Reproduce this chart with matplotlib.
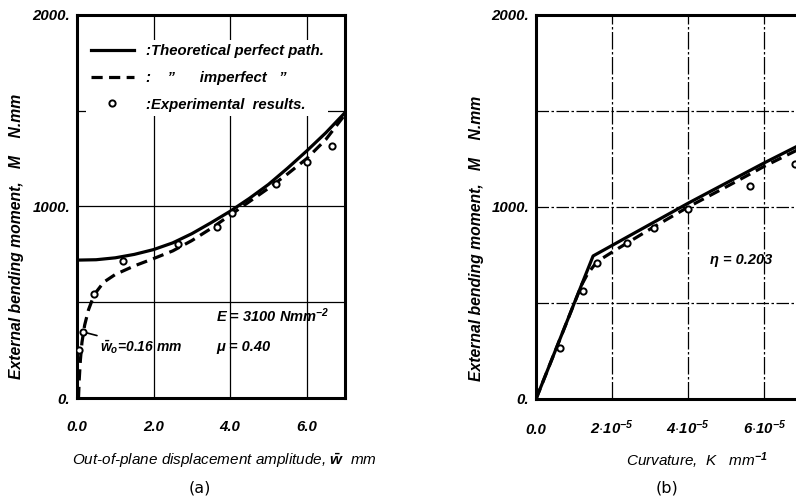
import matplotlib
matplotlib.use('Agg')
import matplotlib.pyplot as plt
from matplotlib.lines import Line2D

plt.rcParams['font.family'] = ['Liberation Sans', 'DejaVu Sans']
plt.rcParams['font.weight'] = 'bold'
plt.rcParams['font.style'] = 'italic'
plt.rcParams['mathtext.fontset'] = 'custom'
plt.rcParams['mathtext.rm'] = 'Liberation Sans:bold:italic'
plt.rcParams['mathtext.it'] = 'Liberation Sans:bold:italic'
plt.rcParams['mathtext.bf'] = 'Liberation Sans:bold:italic'

# (a) moment vs out-of-plane displacement
perfect_w = [0, 0.5, 1.0, 1.5, 2.0, 2.5, 3.0, 3.5, 4.0, 4.5, 5.0, 5.5, 6.0, 6.5, 7.0]
perfect_M = [720, 722, 732, 750, 775, 810, 858, 915, 975, 1042, 1115, 1200, 1290, 1385, 1490]
imperf_w = [0.04, 0.06, 0.09, 0.13, 0.2, 0.3, 0.45, 0.7, 1.0, 1.5, 2.0, 2.5, 3.0, 3.5, 4.0,
            4.5, 5.0, 5.5, 6.0, 6.5, 7.0]
imperf_M = [0, 100, 200, 290, 380, 460, 540, 605, 645, 690, 728, 768, 822, 885, 955,
            1025, 1095, 1170, 1250, 1350, 1480]
exp_w = [0.05, 0.16, 0.45, 1.2, 2.65, 3.65, 4.05, 5.2, 6.0, 6.65]
exp_M = [250, 345, 545, 715, 805, 895, 965, 1120, 1230, 1315]

# (b) moment vs curvature (units of 1e-5 mm^-1)
perf_k = [0, 1.5, 2.0, 3.0, 4.0, 5.0, 6.0, 7.0]
perf_kM = [0, 745, 800, 910, 1020, 1125, 1230, 1330]
imp_k = [0, 1.2, 1.35, 1.6, 2.0, 3.0, 4.0, 5.0, 6.0, 7.0]
imp_kM = [0, 595, 650, 715, 765, 885, 1000, 1105, 1212, 1310]
exp_k = [0.63, 1.23, 1.6, 2.4, 3.09, 4.0, 5.63, 6.8]
exp_kM = [265, 560, 708, 812, 890, 990, 1109, 1224]

grid_w = [2, 4, 6]
grid_k = [2, 4, 6]
grid_M = [500, 1000, 1500]

fig = plt.figure(figsize=(7.96, 4.98), dpi=100)
axa = fig.add_axes([0.0967, 0.2008, 0.3367, 0.7691])
axb = fig.add_axes([0.6734, 0.1988, 0.3442, 0.7711])

line_kw = dict(color='black', lw=2.3)
dash_kw = dict(color='black', lw=2.3, dashes=(3.5, 2))
pt_kw = dict(ls='none', marker='o', ms=4.5, mfc='white', mec='black', mew=1.4)

# ---- panel (a)
for g in grid_w:
    axa.axvline(g, color='black', lw=0.9, zorder=1)
for g in grid_M:
    axa.axhline(g, color='black', lw=0.9, zorder=1)
axa.plot(perfect_w, perfect_M, zorder=3, **line_kw)
axa.plot(imperf_w, imperf_M, zorder=3, **dash_kw)
axa.plot(exp_w, exp_M, zorder=4, **pt_kw)
axa.set_xlim(0, 7.0)
axa.set_ylim(0, 2000)
axa.set_xticks([0, 2, 4, 6])
axa.set_xticklabels(['0.0', '2.0', '4.0', '6.0'])
axa.set_yticks([0, 1000, 2000])
axa.set_yticklabels(['0.', '1000.', '2000.'])

handles = [Line2D([], [], **line_kw), Line2D([], [], **dash_kw), Line2D([], [], **pt_kw)]
labels = [':Theoretical perfect path.', ':    \u201d      imperfect   \u201d', ':Experimental  results.']
leg = axa.legend(handles, labels, loc='upper left', bbox_to_anchor=(0.035, 0.935),
                 fontsize=10.7, handlelength=2.9, handletextpad=0.8, labelspacing=0.85,
                 frameon=True, facecolor='white', edgecolor='none', framealpha=1,
                 borderpad=0.3, borderaxespad=0)

axa.text(0.52, 0.215, 'E = 3100 Nmm$^{-2}$', transform=axa.transAxes, fontsize=10.5,
         va='center', ha='left')
axa.text(0.52, 0.133, '\u03bc = 0.40', transform=axa.transAxes, fontsize=10.5,
         va='center', ha='left')
axa.annotate(r'$\bar{w}_o$=0.16 mm', xy=(exp_w[1], exp_M[1]), xytext=(0.085, 0.133),
             textcoords='axes fraction', fontsize=10, va='center', ha='left',
             arrowprops=dict(arrowstyle='-', color='black', lw=1.2, shrinkA=0, shrinkB=3))

axa.set_xlabel('Out-of-plane displacement amplitude, $\\bar{w}$  mm', fontsize=11)
axa.xaxis.set_label_coords(0.55, -0.14)
fig.text(200 / 796, 1 - 488 / 498, '(a)', ha='center', va='center', fontsize=11.5,
         style='normal', weight='normal', family='DejaVu Sans')
fig.text(17 / 796, 1 - 236 / 498, 'External bending moment,   M    N.mm', rotation=90,
         ha='center', va='center', fontsize=11.3)

# ---- panel (b)
for g in grid_k:
    axb.axvline(g, color='black', lw=0.9, dashes=(14, 2, 2, 2), zorder=1)
for g in grid_M:
    axb.axhline(g, color='black', lw=0.9, dashes=(10, 2, 2, 2), zorder=1)
axb.plot(perf_k, perf_kM, zorder=3, **line_kw)
axb.plot(imp_k, imp_kM, zorder=3, **dash_kw)
axb.plot(exp_k, exp_kM, zorder=4, **pt_kw)
axb.set_xlim(0, 7.2)
axb.set_ylim(0, 2000)
axb.set_xticks([0, 2, 4, 6])
axb.set_xticklabels(['0.0', r'2$\cdot$10$^{-5}$', r'4$\cdot$10$^{-5}$', r'6$\cdot$10$^{-5}$'])
axb.set_yticks([0, 1000, 2000])
axb.set_yticklabels(['0.', '1000.', '2000.'])
axb.text(0.635, 0.362, '\u03b7 = 0.203', transform=axb.transAxes, fontsize=10.5,
         va='center', ha='left')
axb.set_xlabel('Curvature,  K   mm$^{-1}$', fontsize=11)
axb.xaxis.set_label_coords(0.588, -0.135)
fig.text(667 / 796, 1 - 488 / 498, '(b)', ha='center', va='center', fontsize=11.5,
         style='normal', weight='normal', family='DejaVu Sans')
fig.text(477 / 796, 1 - 238 / 498, 'External bending moment,   M    N.mm', rotation=90,
         ha='center', va='center', fontsize=11.3)

for ax in (axa, axb):
    for s in ax.spines.values():
        s.set_linewidth(2.2)
    ax.tick_params(length=0, labelsize=10.8)
    ax.tick_params(axis='y', pad=5)
axa.tick_params(axis='x', pad=16)
axb.tick_params(axis='x', pad=25)
for lbl in axb.get_xticklabels():
    lbl.set_va('baseline')

fig.savefig('out.png', dpi=100)
